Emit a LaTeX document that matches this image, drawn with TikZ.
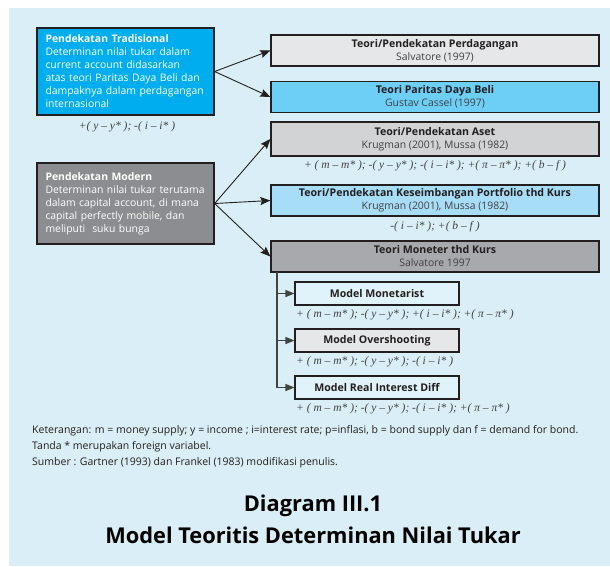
\documentclass[tikz,border=0pt]{standalone}
\usepackage{fontspec}
\setmainfont{Open Sans}
\newfontfamily\fmath{Liberation Serif}
\usetikzlibrary{arrows.meta}
\definecolor{bgc}{HTML}{D9EEF6}
\definecolor{cyanA}{HTML}{00AEEF}
\definecolor{greyM}{HTML}{8C8D90}
\definecolor{greyL}{HTML}{E6E7E8}
\definecolor{blueP}{HTML}{6DCFF6}
\definecolor{greyA}{HTML}{D1D3D4}
\definecolor{blueK}{HTML}{A8DDF8}
\definecolor{greyK}{HTML}{A7A9AC}
\definecolor{blueW}{HTML}{E1F3FA}
\definecolor{ink}{HTML}{231F20}
\definecolor{subink}{HTML}{414042}
\tikzset{
  mainbox/.style={draw=ink, line width=1.3pt, text=white, minimum width=177pt, text width=160pt, inner xsep=8.5pt, align=left, font=\fontsize{10.4}{13}\selectfont},
  rbox/.style={draw=ink, line width=1.3pt, text=ink, minimum width=328pt, minimum height=31pt, align=center, inner sep=0pt, font=\fontsize{10.4}{13}\selectfont},
  mbox/.style={draw=ink, line width=1.1pt, text=ink, minimum width=164pt, minimum height=23pt, align=center, inner sep=0pt, font=\fontsize{10.6}{13}\selectfont\bfseries},
  formula/.style={text=subink, inner sep=0pt, font=\fmath\itshape\fontsize{11.5}{12}\selectfont},
  arr/.style={draw=ink, line width=0.9pt, -{Stealth[length=10pt,width=8pt,inset=1.5pt]}},
  marr/.style={draw=ink!85, line width=1.2pt, -{Triangle[length=9pt,width=7pt]}},
  note/.style={text=ink, inner sep=0pt, anchor=west, font=\fontsize{10.5}{12}\selectfont},
  ttl/.style={text=black, inner sep=0pt, anchor=base, font=\fontsize{21.8}{24}\selectfont\bfseries}
}
\newcommand{\sub}[1]{{\color{subink}\mdseries #1}}
\newcommand{\hd}[1]{{\fontsize{10.6}{13}\selectfont\bfseries #1}}
\begin{document}
\begin{tikzpicture}[x=1pt,y=-1pt]
\useasboundingbox (0,0) rectangle (610,566);
\fill[bgc] (9,8) rectangle (610,566);

\node[mainbox, fill=cyanA, minimum height=87pt] (trad) at (125.5,71.5)
  {\textbf{Pendekatan Tradisional}\\Determinan nilai tukar dalam\\current account didasarkan\\atas teori Paritas Daya Beli dan\\dampaknya dalam perdagangan\\internasional};
\node[formula] (ftrad) at (127,127) {+( y – y* ); -( i – i* )};

\node[mainbox, fill=greyM, minimum height=81pt] (mod) at (125.5,203.5)
  {\textbf{Pendekatan Modern}\\Determinan nilai tukar terutama\\dalam capital account, di mana\\capital perfectly mobile, dan\\meliputi\ \ suku bunga};

\node[rbox, fill=greyL] (dag) at (435,50.5) {\hd{Teori/Pendekatan Perdagangan}\\\sub{Salvatore (1997)}};
\node[rbox, fill=blueP] (ppp) at (435,97) {\hd{Teori Paritas Daya Beli}\\\sub{Gustav Cassel (1997)}};
\node[rbox, fill=greyA, minimum height=34pt] (aset) at (435,139) {\hd{Teori/Pendekatan Aset}\\\sub{Krugman (2001), Mussa (1982)}};
\node[formula] (faset) at (435,166) {+ ( m – m* ); -( y – y* ); -( i – i* ); +( π – π* ); +( b – f )};
\node[rbox, fill=blueK] (port) at (435,200.5) {\hd{Teori/Pendekatan Keseimbangan Portfolio thd Kurs}\\\sub{Krugman (2001), Mussa (1982)}};
\node[formula] (fport) at (435,227) {-( i – i* ); +( b – f )};
\node[rbox, fill=greyK] (mon) at (435,256.5) {\hd{Teori Moneter thd Kurs}\\\sub{Salvatore 1997}};

\node[mbox, fill=blueW] (m1) at (377,293.5) {Model Monetarist};
\node[formula, anchor=west] (f1) at (296,314.5) {+ ( m – m* ); -( y – y* ); +( i – i* ); +( π – π* )};
\node[mbox, fill=greyL] (m2) at (377,340.5) {Model Overshooting};
\node[formula, anchor=west] (f2) at (296,362) {+ ( m – m* ); -( y – y* ); -( i – i* )};
\node[mbox, fill=blueW] (m3) at (377,387.5) {Model Real Interest Diff};
\node[formula, anchor=west] (f3) at (296,408.5) {+ ( m – m* ); -( y – y* ); -( i – i* ); +( π – π* )};

\draw[arr] (trad.east) -- (dag.west);
\draw[arr] (trad.east) -- (ppp.west);
\draw[arr] (mod.east) -- (aset.west);
\draw[arr] (mod.east) -- (port.west);
\draw[arr] (mod.east) -- (mon.west);

\coordinate (trunk) at (277,272);
\draw[marr] (trunk) |- (m1.west);
\draw[marr] (trunk) |- (m2.west);
\draw[marr] (trunk) |- (m3.west);

\node[note] (k1) at (32,431) {Keterangan: m = money supply; y = income ; i=interest rate; p=inflasi, b = bond supply dan f = demand for bond.};
\node[note] (k2) at (32,447) {Tanda * merupakan foreign variabel.};
\node[note] (k3) at (32,463) {Sumber : Gartner (1993) dan Frankel (1983) modifikasi penulis.};

\node[ttl] (t1) at (313,511) {Diagram III.1};
\node[ttl] (t2) at (313,543) {Model Teoritis Determinan Nilai Tukar};
\end{tikzpicture}
\end{document}
